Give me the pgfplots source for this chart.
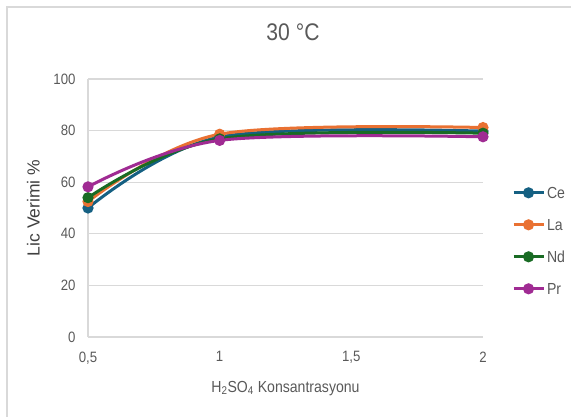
\documentclass[border=0pt]{standalone}
\usepackage{pgfplots}
\pgfplotsset{compat=1.18}
\usepackage{fontspec}
\setmainfont{Liberation Sans}
\newfontfamily\narrowfont{Liberation Sans}[FakeStretch=0.88]
\definecolor{ce}{HTML}{156082}
\definecolor{la}{HTML}{E97132}
\definecolor{nd}{HTML}{196B24}
\definecolor{pr}{HTML}{A02B93}
\definecolor{txt}{HTML}{595959}
\definecolor{grd}{HTML}{D9D9D9}
\begin{document}
\begin{tikzpicture}[x=1pt,y=1pt]
\useasboundingbox (0,0) rectangle (571,416);
\draw[grd, line width=1.2pt] (7,-10) -- (7,409) -- (600,409);
\begin{axis}[
  at={(88pt,79pt)}, anchor=south west, scale only axis,
  width=395pt, height=258pt,
  xmin=0.5, xmax=2, ymin=0, ymax=100,
  xtick={0.5,1,1.5,2}, xticklabels={{0,5},1,{1,5},2},
  ytick={0,20,...,100},
  axis lines*=left,
  axis line style={grd, line width=1.2pt, -},
  major tick length=0pt,
  ymajorgrids, grid style={grd, line width=1.2pt},
  /pgf/number format/assume math mode=true,
  tick label style={font=\narrowfont\fontsize{15}{15}\selectfont, text=txt},
  xticklabel style={yshift=-11pt},
  yticklabel style={xshift=-9pt},
  xlabel={H\textsubscript{2}SO\textsubscript{4} Konsantrasyonu},
  xlabel style={at={(axis description cs:0.5,-0.198)}, anchor=center, font=\narrowfont\fontsize{16}{16}\selectfont, text=txt},
  ylabel={Lic Verimi \%},
  ylabel style={at={(axis description cs:-0.138,0.5)}, anchor=center, font=\fontsize{17.5}{17.5}\selectfont, text=black!75},
  title={30 °C},
  title style={at={(axis description cs:0.519,1.159)}, anchor=center, font=\narrowfont\fontsize{24}{24}\selectfont, text=txt},
  legend style={at={(1.073,0.581)}, anchor=north west, draw=none, fill=none, inner sep=0pt,
    row sep=21pt, column sep=2pt,
    nodes={inner sep=0pt, text height=11pt, text depth=0pt, anchor=west},
    font=\narrowfont\fontsize{16}{16}\selectfont, text=txt},
  legend cell align=left,
  legend image code/.code={\draw[#1, mark repeat=2, mark phase=2] plot coordinates {(0pt,0pt) (15pt,0pt) (30pt,0pt)};},
  every axis plot/.append style={line width=3pt, mark=*, mark size=4pt, smooth, tension=0.55},
  clip=false,
]
\addplot[ce, mark options={fill=ce}] coordinates {(0.5,50.0) (1,77.5) (2,79.8)};
\addlegendentry{Ce}
\addplot[la, mark options={fill=la}] coordinates {(0.5,52.5) (1,78.6) (2,81.2)};
\addlegendentry{La}
\addplot[nd, mark options={fill=nd}] coordinates {(0.5,54.0) (1,76.8) (2,79.0)};
\addlegendentry{Nd}
\addplot[pr, mark options={fill=pr}] coordinates {(0.5,58.2) (1,76.2) (2,77.6)};
\addlegendentry{Pr}
\end{axis}
\end{tikzpicture}
\end{document}
